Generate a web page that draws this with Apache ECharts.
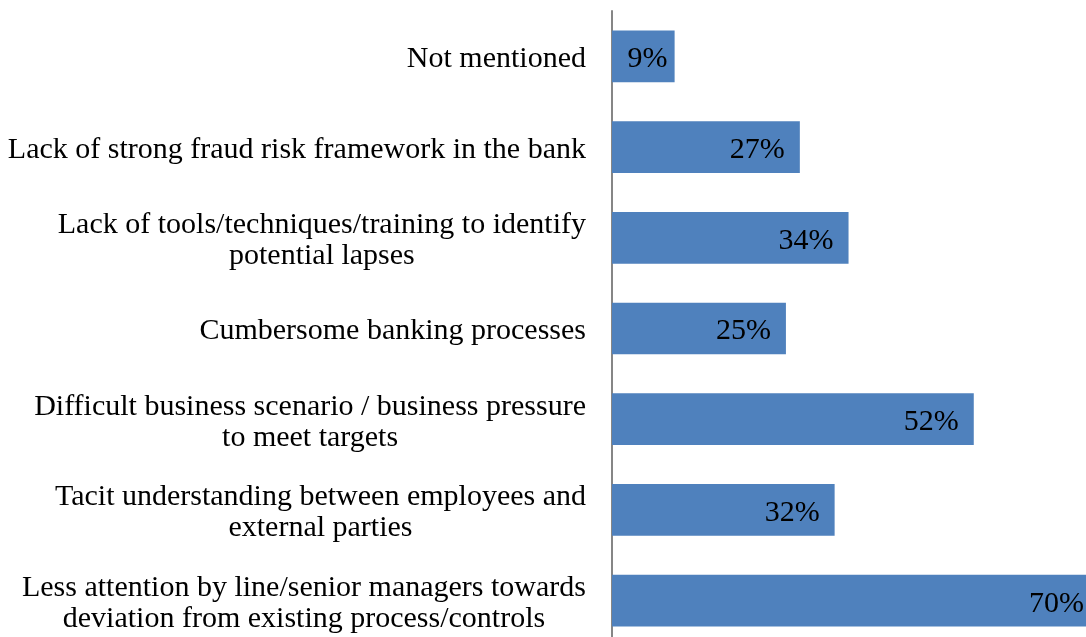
<!DOCTYPE html>
<html>
<head>
<meta charset="utf-8">
<style>
  html, body { margin: 0; padding: 0; background: #ffffff; }
  #chart { width: 1086px; height: 637px; }
</style>
<script src="https://cdn.jsdelivr.net/npm/echarts@6/dist/echarts.min.js"></script>
</head>
<body>
<div id="chart"></div>
<script>
// Reasons cited for fraud lapses (share of respondents, %)
const categories = [
  'Not mentioned',
  'Lack of strong fraud risk framework in the bank',
  'Lack of tools/techniques/training to identify\npotential lapses',
  'Cumbersome banking processes',
  'Difficult business scenario / business pressure\nto meet targets',
  'Tacit understanding between employees and\nexternal parties',
  'Less attention by line/senior managers towards\ndeviation from existing process/controls'
];
const values = [9, 27, 34, 25, 52, 32, 70];

const FONT = '"Liberation Serif", "Times New Roman", serif';

// the shortest bar keeps its label a little closer to the bar end
const barData = values.map(function (v, i) {
  return i === 0 ? { value: v, label: { distance: 7 } } : v;
});

const chart = echarts.init(document.getElementById('chart'));

chart.setOption({
  animation: false,
  backgroundColor: '#ffffff',
  // plot area runs slightly past the bottom and right edges of the canvas
  grid: {
    left: 612, top: 11, width: 487, height: 635,
    containLabel: false,
    outerBoundsMode: 'none'
  },
  xAxis: {
    type: 'value',
    min: 0,
    max: 70,
    show: false,
    splitLine: { show: false }
  },
  yAxis: {
    type: 'category',
    data: categories,
    inverse: true,
    axisLine: { show: true, lineStyle: { color: '#868686', width: 2 } },
    axisTick: { show: false },
    splitLine: { show: false },
    axisLabel: {
      margin: 26,
      padding: [6, 0, 0, 0],
      color: '#000000',
      fontFamily: FONT,
      fontSize: 30,
      lineHeight: 31,
      // each line centred within the label block, block right-aligned to the axis
      formatter: function (v) {
        return v.split('\n').map(function (s) { return '{c|' + s + '}'; }).join('\n');
      },
      rich: {
        c: {
          align: 'center',
          color: '#000000',
          fontFamily: FONT,
          fontSize: 30,
          lineHeight: 31
        }
      }
    }
  },
  series: [{
    type: 'bar',
    data: barData,
    barWidth: '57%',
    itemStyle: { color: '#4F81BD' },
    label: {
      show: true,
      position: 'insideRight',
      distance: 15,
      offset: [0, 3],
      formatter: '{c}%',
      color: '#000000',
      fontFamily: FONT,
      fontSize: 30
    }
  }]
});
</script>
</body>
</html>
